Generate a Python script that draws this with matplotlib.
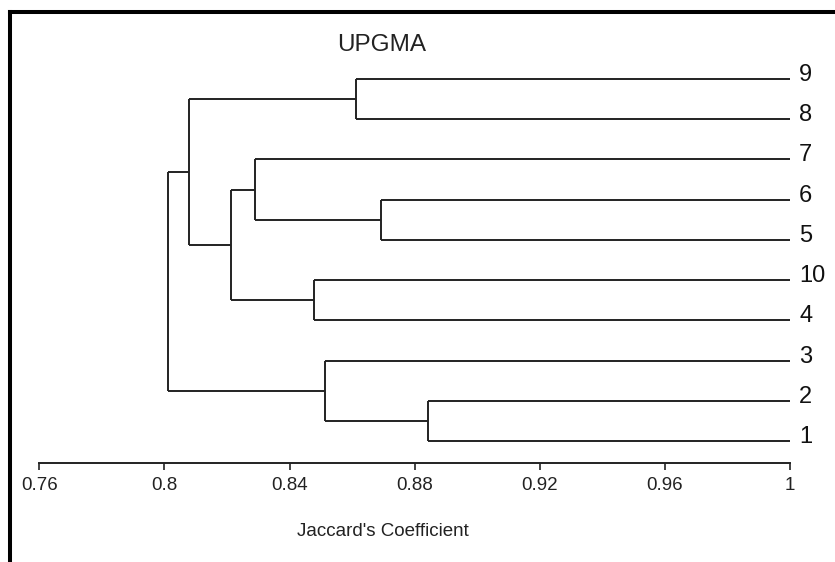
import matplotlib
matplotlib.use("Agg")
import matplotlib.pyplot as plt
from matplotlib.lines import Line2D

plt.rcParams['font.family'] = ['Liberation Sans', 'DejaVu Sans']

# leaves in display order, top to bottom (ids 0..9)
leaf_labels = ['9', '8', '7', '6', '5', '10', '4', '3', '2', '1']
# merges: child a, child b, Jaccard similarity (new ids 10, 11, ...)
merge_a = [0, 3, 2, 5, 12, 10, 8, 7, 15]
merge_b = [1, 4, 11, 6, 13, 14, 9, 16, 17]
merge_h = [0.8614, 0.8694, 0.8291, 0.8478, 0.8214, 0.8080, 0.8843, 0.8514, 0.8011]
xticks = [0.76, 0.8, 0.84, 0.88, 0.92, 0.96, 1.0]
xtick_labels = ['0.76', '0.8', '0.84', '0.88', '0.92', '0.96', '1']

W, H = 835, 562
fig = plt.figure(figsize=(W / 100, H / 100), dpi=100)
ax = fig.add_axes([39.3 / W, (H - 462.7) / H, (790 - 39.3) / W, (462.7 - 58.8) / H])

n = len(leaf_labels)
ypos = {i: n - 1 - i for i in range(n)}
xpos = {i: 1.0 for i in range(n)}
lc = '#222222'
lw = 1.4
for k, (a, b, h) in enumerate(zip(merge_a, merge_b, merge_h)):
    node = n + k
    ax.plot([h, h], [ypos[a], ypos[b]], color=lc, lw=lw, solid_capstyle='butt')
    for c in (a, b):
        ax.plot([h, xpos[c]], [ypos[c], ypos[c]], color=lc, lw=lw, solid_capstyle='butt')
    ypos[node] = (ypos[a] + ypos[b]) / 2
    xpos[node] = h

label_x = 1.0 + 0.04 * 9 / 125.1  # ~9px right of the leaf ends
for i, lab in enumerate(leaf_labels):
    ax.text(label_x, ypos[i] + 0.1, lab, fontsize=17,
            ha='left', va='center', color='#111111', clip_on=False)

ax.set_xlim(0.76, 1.0)
ax.set_ylim(-0.532, 9.5)
for s in ['top', 'right', 'left']:
    ax.spines[s].set_visible(False)
ax.spines['bottom'].set_linewidth(1.4)
ax.spines['bottom'].set_color(lc)
ax.set_yticks([])
ax.set_xticks(xticks)
ax.set_xticklabels(xtick_labels)
ax.tick_params(axis='x', direction='out', length=5, width=1.2, color=lc,
               labelsize=13.5, pad=5.5, labelcolor='#222222')

fig.text(381.7 / W, 1 - 45 / H, 'UPGMA', ha='center', va='center', fontsize=17.5, color='#222222')
fig.text(383 / W, 1 - 532 / H, "Jaccard's Coefficient", ha='center', va='center', fontsize=13.5, color='#222222')

# frame on left and top edges
fig.add_artist(Line2D([10 / W, 10 / W], [0, 1 - 12 / H], color='black', lw=2.9,
                      transform=fig.transFigure, solid_capstyle='projecting'))
fig.add_artist(Line2D([10 / W, 1], [1 - 12 / H, 1 - 12 / H], color='black', lw=2.9,
                      transform=fig.transFigure, solid_capstyle='projecting'))

fig.savefig('out.png', dpi=100)
